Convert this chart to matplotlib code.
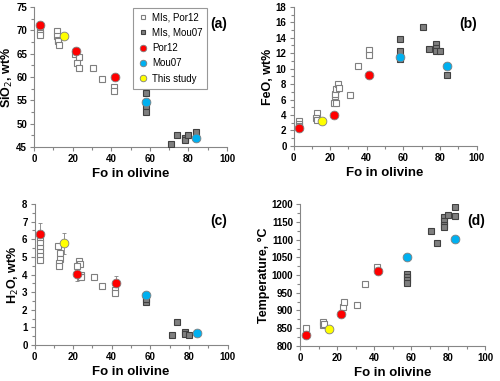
import matplotlib
matplotlib.use("Agg")
import matplotlib.pyplot as plt
from matplotlib.ticker import MultipleLocator

plt.rcParams['font.family'] = ['Liberation Sans Narrow', 'Liberation Sans', 'DejaVu Sans']

# ---- data ----
# Panel (a) SiO2
a_por_fo = [3, 3, 3, 3, 12, 12, 12.5, 12.5, 13, 21, 22, 23.5, 22.5, 23.5, 30.5, 35, 41.5, 41.5]
a_por_v = [70.8, 70.0, 69.5, 69.0, 69.8, 68.7, 68.0, 67.6, 66.8, 64.9, 65.5, 64.3, 63.0, 62.0, 62.0, 59.6, 57.8, 57.0]
a_mou_fo = [58, 58, 58, 71, 74, 78, 78, 80, 84]
a_mou_v = [56.6, 53.7, 52.4, 45.6, 47.6, 47.0, 46.5, 47.6, 48.2]
a_red_fo = [3, 22, 42]
a_red_v = [71.1, 65.5, 60.0]
a_blue_fo = [58, 84]
a_blue_v = [54.6, 46.9]
a_yel_fo = [15.5]
a_yel_v = [68.7]

# Panel (b) FeO
b_por_fo = [3, 3, 3, 13, 12.5, 13, 22, 23, 22.5, 22.5, 23, 24.5, 25, 31, 35, 41.5, 41.5]
b_por_v = [3.2, 2.9, 2.6, 4.2, 3.6, 3.3, 5.5, 5.5, 6.4, 6.75, 7.4, 8.05, 7.45, 6.6, 10.3, 12.4, 11.8]
b_mou_fo = [58, 58, 58, 71, 74, 78, 78, 78, 80, 84]
b_mou_v = [13.8, 12.25, 11.2, 15.4, 12.5, 13.2, 12.7, 12.25, 12.25, 9.2]
b_red_fo = [3, 22, 41.5]
b_red_v = [2.3, 4.0, 9.2]
b_blue_fo = [58, 84]
b_blue_v = [11.5, 10.4]
b_yel_fo = [15.5]
b_yel_v = [3.2]

# Panel (c) H2O
c_por_fo = [3, 3, 3, 3, 3, 3, 12, 13, 13, 12.5, 12.5, 23, 23.5, 22, 24, 24, 31, 35, 41.5, 41.5]
c_por_v = [6.0, 5.77, 5.5, 5.25, 5.05, 4.85, 5.6, 5.2, 4.9, 4.65, 4.5, 4.75, 4.6, 4.5, 4.0, 3.85, 3.85, 3.35, 3.1, 2.95]
c_mou_fo = [58, 58, 71, 74, 78, 78, 80]
c_mou_v = [2.45, 2.6, 0.55, 1.3, 0.75, 0.65, 0.55]
c_red_fo = [3, 22, 42]
c_red_v = [6.3, 4.03, 3.5]
c_red_err = [0.65, 0.4, 0.4]
c_blue_fo = [58, 84]
c_blue_v = [2.84, 0.7]
c_yel_fo = [15.5]
c_yel_v = [5.77]
c_yel_err = [0.6]

# Panel (d) Temperature
d_por_fo = [3, 12.5, 12.5, 13, 23, 24, 31, 35, 41.5]
d_por_v = [851, 866, 858, 862, 910, 923, 914, 975, 1022]
d_mou_fo = [58, 58, 58, 58, 71, 74, 78, 78, 78, 78, 80, 84, 84]
d_mou_v = [1003, 993, 986, 978, 1125, 1091, 1164, 1154, 1142, 1135, 1170, 1192, 1166]
d_red_fo = [3, 22, 42]
d_red_v = [829, 891, 1010]
d_blue_fo = [58, 84]
d_blue_v = [1052, 1101]
d_yel_fo = [15.5]
d_yel_v = [848]

legend_labels = ["MIs, Por12", "MIs, Mou07", "Por12", "Mou07", "This study"]

fig = plt.figure(figsize=(5.0, 3.81), dpi=100)

boxes = {
    'a': [0.068, 0.614, 0.386, 0.368],
    'b': [0.587, 0.617, 0.366, 0.365],
    'c': [0.069, 0.0945, 0.386, 0.370],
    'd': [0.600, 0.0927, 0.370, 0.371],
}

sq_ms = 4.3
ci_ms = 6.3

def panel(key, por, mou, red, blue, yel, ylim, ymaj, ymin, ylabel, label, red_err=None, yel_err=None):
    ax = fig.add_axes(boxes[key])
    ax.plot(por[0], por[1], 's', ms=sq_ms, mfc='white', mec='#7f7f7f', mew=0.8, ls='none', label=legend_labels[0], zorder=3)
    ax.plot(mou[0], mou[1], 's', ms=sq_ms, mfc='#7f7f7f', mec='#404040', mew=0.8, ls='none', label=legend_labels[1], zorder=3)
    if red_err is not None:
        ax.errorbar(red[0], red[1], yerr=red_err, fmt='none', ecolor='#808080', elinewidth=0.6, capsize=1.5, capthick=0.6, zorder=2)
    if yel_err is not None:
        ax.errorbar(yel[0], yel[1], yerr=yel_err, fmt='none', ecolor='#808080', elinewidth=0.6, capsize=1.5, capthick=0.6, zorder=2)
    ax.plot(red[0], red[1], 'o', ms=ci_ms, mfc='#ff0000', mec='#7f7f7f', mew=0.6, ls='none', label=legend_labels[2], zorder=4)
    ax.plot(blue[0], blue[1], 'o', ms=ci_ms, mfc='#00b0f0', mec='#7f7f7f', mew=0.6, ls='none', label=legend_labels[3], zorder=4)
    ax.plot(yel[0], yel[1], 'o', ms=ci_ms, mfc='#ffff00', mec='#7f7f7f', mew=0.6, ls='none', label=legend_labels[4], zorder=4)
    ax.set_xlim(0, 100)
    ax.set_ylim(*ylim)
    ax.xaxis.set_major_locator(MultipleLocator(20))
    ax.xaxis.set_minor_locator(MultipleLocator(10))
    ax.yaxis.set_major_locator(MultipleLocator(ymaj))
    ax.yaxis.set_minor_locator(MultipleLocator(ymin))
    for s in ['top', 'right']:
        ax.spines[s].set_visible(False)
    for s in ['left', 'bottom']:
        ax.spines[s].set_color('#868686')
        ax.spines[s].set_linewidth(0.8)
    ax.tick_params(which='both', direction='out', color='#868686', width=0.8)
    ax.tick_params(which='major', length=3, labelsize=7, pad=2)
    ax.tick_params(which='minor', length=2)
    for t in ax.get_xticklabels() + ax.get_yticklabels():
        t.set_fontweight('bold')
    ax.set_xlabel("Fo in olivine", fontsize=9.5, fontweight='bold', labelpad=3)
    ax.set_ylabel(ylabel, fontsize=9, fontweight='bold', labelpad=1)
    ax.text(1.0, 0.88, label, transform=ax.transAxes, ha='right', va='center', fontsize=10, fontweight='bold')
    return ax

ax_a = panel('a', (a_por_fo, a_por_v), (a_mou_fo, a_mou_v), (a_red_fo, a_red_v), (a_blue_fo, a_blue_v),
             (a_yel_fo, a_yel_v), (45, 75), 5, 2.5, "SiO$_2$, wt%", "(a)")
panel('b', (b_por_fo, b_por_v), (b_mou_fo, b_mou_v), (b_red_fo, b_red_v), (b_blue_fo, b_blue_v),
      (b_yel_fo, b_yel_v), (0, 18), 2, 1, "FeO, wt%", "(b)")
panel('c', (c_por_fo, c_por_v), (c_mou_fo, c_mou_v), (c_red_fo, c_red_v), (c_blue_fo, c_blue_v),
      (c_yel_fo, c_yel_v), (0, 8), 1, 0.5, "H$_2$O, wt%", "(c)", red_err=c_red_err, yel_err=c_yel_err)
panel('d', (d_por_fo, d_por_v), (d_mou_fo, d_mou_v), (d_red_fo, d_red_v), (d_blue_fo, d_blue_v),
      (d_yel_fo, d_yel_v), (800, 1200), 50, 25, "Temperature, \u00b0C", "(d)")

handles, labels = ax_a.get_legend_handles_labels()
leg = ax_a.legend(handles, labels, loc='upper left', bbox_to_anchor=(0.49, 1.03), fontsize=7,
                  frameon=True, fancybox=False, edgecolor='#7f7f7f', handletextpad=0.4,
                  borderpad=0.5, labelspacing=0.55, handlelength=1.0, markerscale=0.75)
leg.get_frame().set_linewidth(0.8)

fig.savefig("out.png", dpi=100)
